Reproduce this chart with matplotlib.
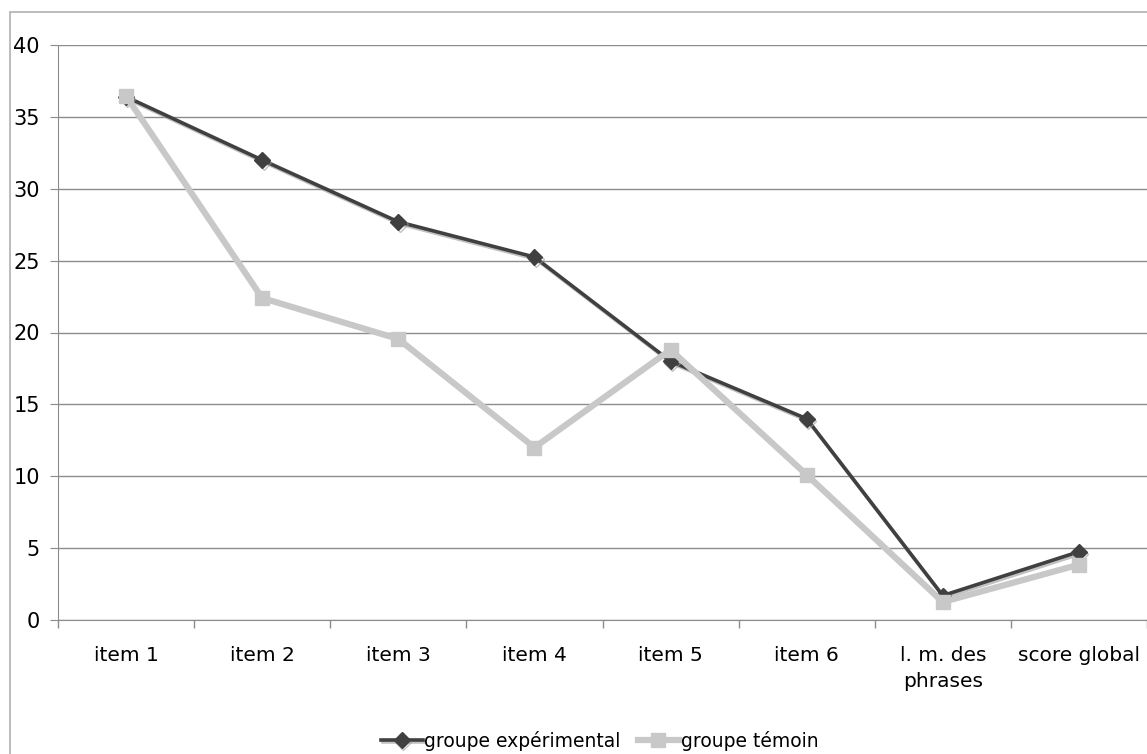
import matplotlib.pyplot as plt
import matplotlib.patches as patches
import matplotlib.patheffects as pe
import numpy as np

categories = ['item 1', 'item 2', 'item 3', 'item 4', 'item 5', 'item 6',
              'l. m. des\nphrases', 'score global']
experimental = [36.4, 32.0, 27.7, 25.25, 18.0, 14.0, 1.7, 4.75]
temoin = [36.45, 22.4, 19.55, 12.0, 18.8, 10.1, 1.25, 3.85]

fig = plt.figure(figsize=(11.47, 7.54), dpi=100)

# cadre gris autour du graphique
fig.patches.append(patches.Rectangle((10 / 1147, -0.05), 1.2, 1 - 12 / 754 + 0.05,
                                     transform=fig.transFigure, fill=False,
                                     edgecolor='#b0b0b0', linewidth=1.2))

ax = fig.add_axes([58 / 1147, 1 - 620 / 754, 1 - 58 / 1147, (620 - 45) / 754])

x = np.arange(len(categories))
ax.plot(x, experimental, color='#404040', linewidth=2.6, marker='D', markersize=8,
        label='groupe expérimental', zorder=3,
        path_effects=[pe.SimpleLineShadow(offset=(1, -1.5), shadow_color='#999999', alpha=0.6),
                      pe.Normal()])
ax.plot(x, temoin, color='#c8c8c8', linewidth=4.5, marker='s', markersize=10,
        label='groupe témoin', zorder=4)

ax.set_xlim(-0.5, len(categories) - 0.5)
ax.set_ylim(0, 40)
ax.set_yticks(range(0, 41, 5))
ax.yaxis.grid(True, color='#8c8c8c', linewidth=1)
ax.set_axisbelow(True)

ax.set_xticks(x)
ax.set_xticklabels(categories, fontsize=14.5, linespacing=1.45)
ax.set_xticks(np.arange(-0.5, len(categories), 1), minor=True)
ax.tick_params(axis='x', which='major', length=0, pad=19)
ax.tick_params(axis='x', which='minor', length=6, color='#8c8c8c', width=1)
ax.tick_params(axis='y', labelsize=15, length=6, color='#8c8c8c', pad=7)

for s in ['top', 'right']:
    ax.spines[s].set_visible(False)
for s in ['left', 'bottom']:
    ax.spines[s].set_color('#8c8c8c')

fig.legend(loc='lower center', bbox_to_anchor=(0.523, -0.018), ncol=2, frameon=False,
           fontsize=13.5, handlelength=2.2, handletextpad=0.1, columnspacing=0.9)

fig.savefig('out.png', dpi=100)
